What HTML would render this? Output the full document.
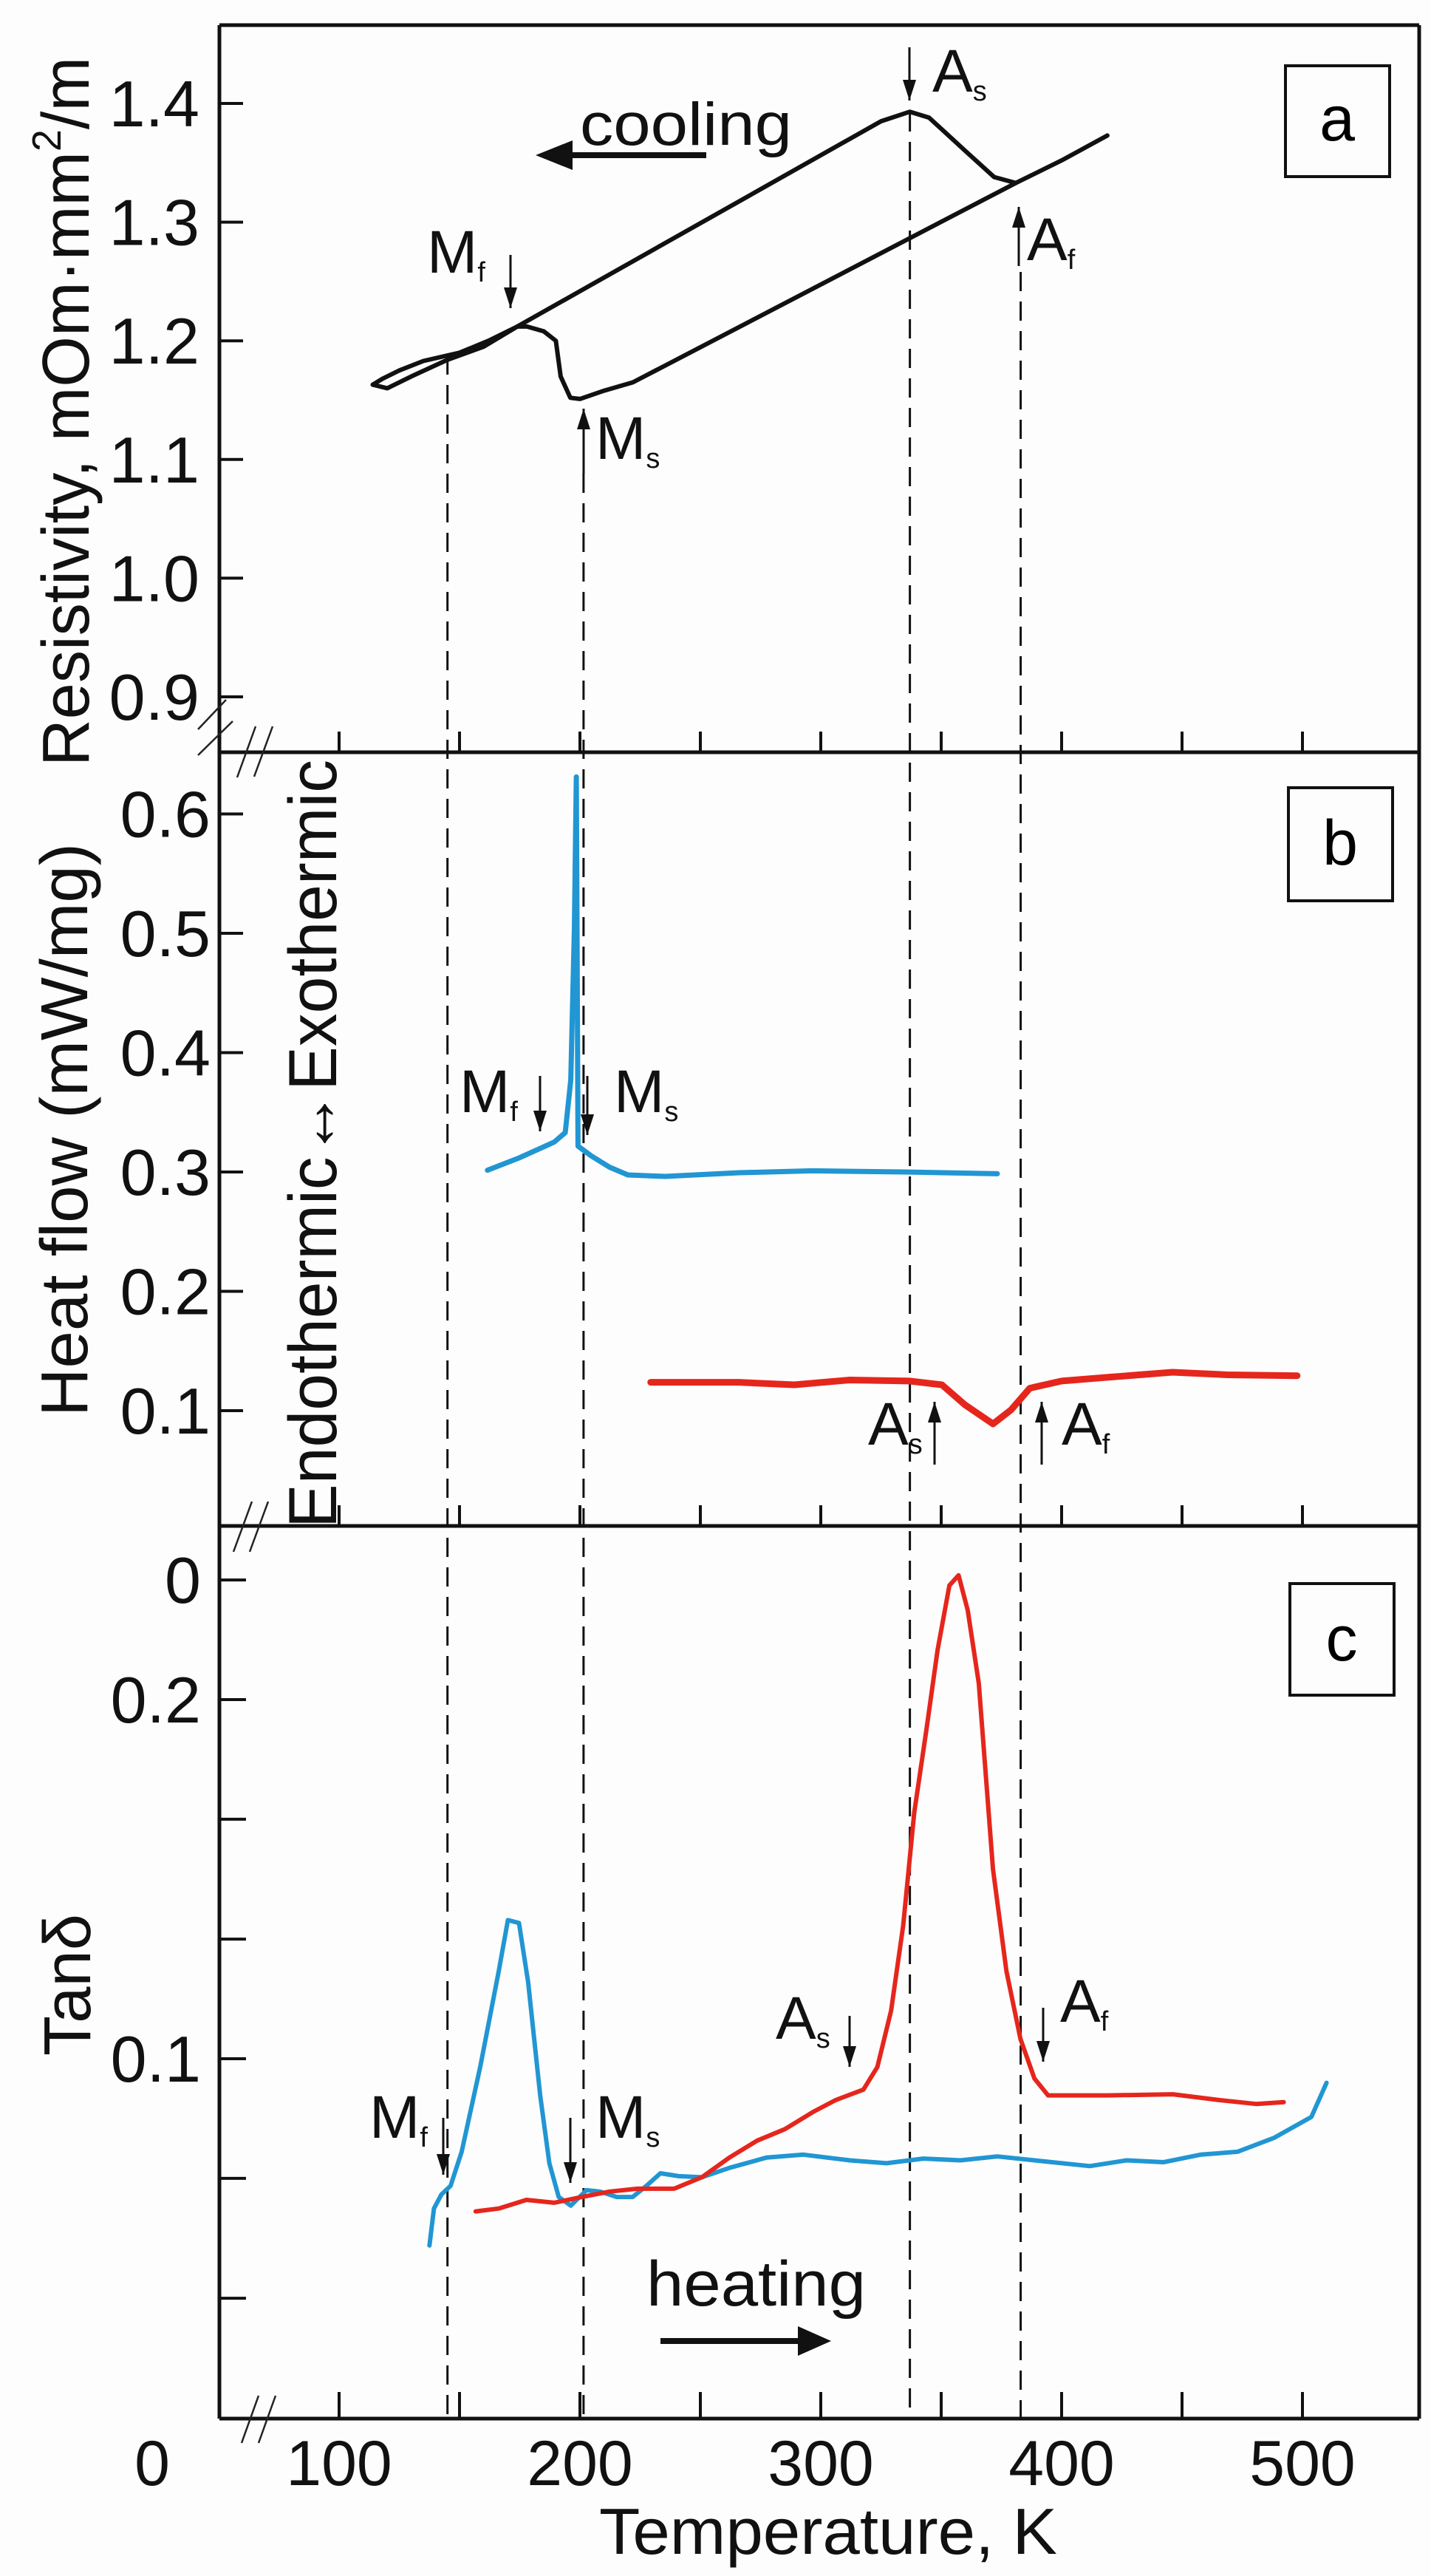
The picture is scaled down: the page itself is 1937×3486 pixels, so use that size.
<!DOCTYPE html>
<html><head><meta charset="utf-8"><title>Resistivity, DSC and Tanδ vs temperature</title>
<style>
html,body{margin:0;padding:0;background:#fdfdfd;}
svg{display:block;font-family:"Liberation Sans",Arial,sans-serif;}
</style></head>
<body>
<svg id="fig" width="1937" height="3486" viewBox="0 0 1937 3486" xmlns="http://www.w3.org/2000/svg">
<rect x="0" y="0" width="1937" height="3486" fill="#fdfdfd"/>
<g id="frame" stroke="#111" stroke-width="5" fill="none">
  <line x1="297" y1="34" x2="1921" y2="34"/>
  <line x1="297" y1="34" x2="297" y2="3273"/>
  <line x1="1921" y1="34" x2="1921" y2="3273"/>
  <line x1="297" y1="1018" x2="1921" y2="1018"/>
  <line x1="297" y1="2065" x2="1921" y2="2065"/>
  <line x1="297" y1="3273" x2="1921" y2="3273"/>
</g>
<g id="ticks"></g>
<g id="dashes"></g>
<g id="series"></g>
<g id="breaks" stroke="#222" stroke-width="2.5">
  <line x1="268" y1="987" x2="306" y2="947"/>
  <line x1="268" y1="1022" x2="315" y2="976"/>
  <line x1="321" y1="1052" x2="346" y2="983"/>
  <line x1="344" y1="1051" x2="369" y2="983"/>
  <line x1="316" y1="2100" x2="341" y2="2032"/>
  <line x1="338" y1="2100" x2="363" y2="2032"/>
  <line x1="327" y1="3306" x2="350" y2="3242"/>
  <line x1="350" y1="3306" x2="373" y2="3242"/>
</g>
<g>
  <rect x="1740" y="89" width="141" height="150" fill="none" stroke="#111" stroke-width="4"/>
  <text x="1810" y="190" font-size="86" text-anchor="middle">a</text>
  <rect x="1744" y="1066" width="141" height="153" fill="none" stroke="#111" stroke-width="4"/>
  <text x="1814" y="1170" font-size="86" text-anchor="middle">b</text>
  <rect x="1746" y="2143" width="141" height="151" fill="none" stroke="#111" stroke-width="4"/>
  <text x="1816" y="2247" font-size="86" text-anchor="middle">c</text>
</g>
<g fill="#111">
  <text transform="translate(120,557) rotate(-90)" font-size="90" text-anchor="middle" textLength="960" lengthAdjust="spacingAndGlyphs">Resistivity, mOm·mm<tspan font-size="55" dy="-38">2</tspan><tspan dy="38">/m</tspan></text>
  <text transform="translate(118,1529) rotate(-90)" font-size="90" text-anchor="middle" textLength="776" lengthAdjust="spacingAndGlyphs">Heat flow (mW/mg)</text>
  <text transform="translate(455,1548) rotate(-90)" font-size="92" text-anchor="middle" textLength="1040" lengthAdjust="spacingAndGlyphs">Endothermic↔Exothermic</text>
  <text transform="translate(122,2686) rotate(-90)" font-size="90" text-anchor="middle" textLength="192" lengthAdjust="spacingAndGlyphs">Tanδ</text>
  <text x="1121" y="3456" font-size="88" text-anchor="middle" textLength="620" lengthAdjust="spacingAndGlyphs">Temperature, K</text>
</g>
<g fill="#111" font-size="80">
  <text x="785" y="196" font-size="82" textLength="287" lengthAdjust="spacingAndGlyphs">cooling</text>
  <line x1="760" y1="210" x2="956" y2="210" stroke="#111" stroke-width="8"/>
  <polygon points="725,210 775,190 775,230" fill="#111"/>
  <text x="875" y="3120" font-size="86" textLength="297" lengthAdjust="spacingAndGlyphs">heating</text>
  <line x1="894" y1="3168" x2="1090" y2="3168" stroke="#111" stroke-width="8"/>
  <polygon points="1125,3168 1080,3148 1080,3188" fill="#111"/>
</g>
<g id="marks"></g>
<g id="labels"></g>

<script>
const xTicks = [100,150,200,250,300,350,400,450,500];
const xTickLabels = ["100","200","300","400","500"];
const xTickLabelVals = [100,200,300,400,500];
const resTicks = [0.9,1.0,1.1,1.2,1.3,1.4];
const resTickLabels = ["0.9","1.0","1.1","1.2","1.3","1.4"];
const hfTicks = [0.1,0.2,0.3,0.4,0.5,0.6];
const hfTickLabels = ["0.1","0.2","0.3","0.4","0.5","0.6"];
const tanTicks = [0.0333,0.0667,0.1,0.1333,0.1667,0.2,0.2333];
const tanLabelVals = [0.1,0.2,0.2333];
const tanTickLabels = ["0.1","0.2","0"];
const transitionT = [145,201.5,337,383];

const resUpperT = [114,118,125,135,150,162,174,325,337,345,360,372,381,400,419];
const resUpperV = [1.163,1.168,1.175,1.183,1.190,1.200,1.212,1.385,1.393,1.388,1.360,1.338,1.333,1.352,1.373];
const resLowerT = [381,222,210,200,196,192,190,185,178,174];
const resLowerV = [1.333,1.165,1.158,1.151,1.152,1.170,1.200,1.208,1.212,1.212];
const resTailT = [114,120,130,145,160,174];
const resTailV = [1.163,1.160,1.170,1.184,1.195,1.212];

const hfCoolT = [161.6,175,189.3,193.9,196.2,197.7,198.5,199.2,204.6,212.3,219.9,235.3,266,296.6,335,373.3];
const hfCoolV = [0.3015,0.312,0.325,0.333,0.377,0.504,0.631,0.3217,0.3136,0.304,0.2975,0.2963,0.2994,0.301,0.300,0.2985];
const hfHeatT = [229.4,266,289,312,336.8,350.3,359.8,371.5,379,386.8,400,419,446,469,497.8];
const hfHeatV = [0.1238,0.1238,0.1217,0.1257,0.1248,0.1217,0.105,0.0889,0.1006,0.1188,0.1248,0.1279,0.1322,0.130,0.1293];

const tanBlueT = [137.5,139.4,142.5,146.3,150.9,158.6,166.3,170.1,174.7,178.5,183.5,187.3,191.2,196.2,202.7,208.4,215.3,221.9,227.6,233.4,241,250.6,262.1,277.5,292.8,312,327.3,342.6,358,373.3,388.7,411.7,427,442.3,457.7,473,488.3,503.7,510];
const tanBlueV = [0.048,0.0583,0.0622,0.0646,0.0741,0.0977,0.1244,0.1386,0.1378,0.1213,0.0898,0.0709,0.0615,0.0591,0.0634,0.0630,0.0615,0.0615,0.0646,0.0681,0.0673,0.0670,0.0696,0.0725,0.0733,0.0717,0.0709,0.0722,0.0717,0.0728,0.0717,0.0701,0.0717,0.0712,0.0733,0.0741,0.0780,0.0838,0.0933];
const tanRedT = [156.7,166.3,177.8,189.3,200.8,212.3,223.8,239.1,250.6,262.1,273.6,285.1,296.6,306.2,317.7,323.5,329.2,334.2,338.8,343.9,348.5,353.4,357.2,361,365.6,371.5,377.1,382.9,388.7,394.4,419.3,446.2,465.3,480.7,492.2];
const tanRedV = [0.0575,0.0583,0.0607,0.0599,0.0615,0.0630,0.0638,0.0638,0.0670,0.0725,0.0772,0.0804,0.0851,0.0885,0.0914,0.0977,0.1134,0.1370,0.1685,0.1918,0.2138,0.2318,0.2346,0.2249,0.2045,0.1528,0.1244,0.1055,0.0945,0.0898,0.0898,0.0901,0.0885,0.0874,0.0879];

const xT = t => 785 + (t-200)*3.26;
const yA = v => 943 - (v-0.9)*1606;
const yB = v => 1586 + (0.3-v)*1615;
const yC = v => 2786 - (v-0.1)*4860;
const NS = "http://www.w3.org/2000/svg";
function mk(tag, attrs, parent){
  const e = document.createElementNS(NS, tag);
  for (const k in attrs) e.setAttribute(k, attrs[k]);
  parent.appendChild(e);
  return e;
}
const ticksG = document.getElementById('ticks');
const labelsG = document.getElementById('labels');
const seriesG = document.getElementById('series');
const dashG = document.getElementById('dashes');
const marksG = document.getElementById('marks');

[[1018,28],[2065,28],[3273,36]].forEach(([yb,len])=>{
  xTicks.forEach(t=>{
    const l = mk('line',{x1:xT(t),x2:xT(t),y1:yb,y2:yb-len,stroke:'#111','stroke-width':4},ticksG);
    
    
  });
});
function yTicks(vals, f, len){
  vals.forEach(v=>{
    const l = mk('line',{x1:297,x2:297+len,y1:f(v),y2:f(v),stroke:'#111','stroke-width':4},ticksG);
    
    
  });
}
yTicks(resTicks,yA,32); yTicks(hfTicks,yB,32); yTicks(tanTicks,yC,36);

function yLabels(vals, labs, f, right, name){
  vals.forEach((v,i)=>{
    const t = mk('text',{x:right,y:f(v)+31,'font-size':88,'text-anchor':'end',fill:'#111'},labelsG);
    t.textContent = labs[i];
    
    
  });
}
yLabels(resTicks,resTickLabels,yA,270,'resistivity-tick-label');
yLabels(hfTicks,hfTickLabels,yB,285,'heat-flow-tick-label');
yLabels(tanLabelVals,tanTickLabels,yC,272,'tan-delta-tick-label');
xTickLabelVals.forEach((v,i)=>{
  const t = mk('text',{x:xT(v),y:3363,'font-size':86,'text-anchor':'middle',fill:'#111'},labelsG);
  t.textContent = xTickLabels[i];
  
  
});
{
  const t = mk('text',{x:206,y:3363,'font-size':86,'text-anchor':'middle',fill:'#111'},labelsG);
  t.textContent = '0';
  
  
}

const dashTop = [481,641,152,368];
transitionT.forEach((t,i)=>{
  const l = mk('line',{x1:xT(t),x2:xT(t),y1:dashTop[i],y2:3273,stroke:'#111','stroke-width':3,'stroke-dasharray':'26 14'},dashG);
  
  
});

function line(T,V,fy,color,w,name){
  const pts = T.map((t,i)=>xT(t).toFixed(1)+','+fy(V[i]).toFixed(1)).join(' ');
  const p = mk('polyline',{points:pts,fill:'none',stroke:color,'stroke-width':w,'stroke-linejoin':'round','stroke-linecap':'round'},seriesG);
  
  
}
line(resUpperT,resUpperV,yA,'#111',6,'resistivity-upper-branch');
line(resLowerT,resLowerV,yA,'#111',6,'resistivity-lower-branch');
line(resTailT,resTailV,yA,'#111',6,'resistivity-tail');
line(hfCoolT,hfCoolV,yB,'#2196d3',7,'heat-flow-cooling');
line(hfHeatT,hfHeatV,yB,'#e5261c',9,'heat-flow-heating');
line(tanBlueT,tanBlueV,yC,'#2196d3',6,'tan-delta-cooling');
line(tanRedT,tanRedV,yC,'#e5261c',6,'tan-delta-heating');

const markerDefs = [
  [1231,64,136,1,'A','s',1262,124],
  [691,345,417,1,'M','f',578,369],
  [1379,280,360,-1,'A','f',1390,352],
  [790,553,641,-1,'M','s',806,621],
  [731,1456,1531,1,'M','f',622,1505],
  [795,1456,1536,1,'M','s',831,1505],
  [1265,1897,1982,-1,'A','s',1175,1955],
  [1410,1897,1982,-1,'A','f',1437,1955],
  [600,2866,2943,1,'M','f',500,2893],
  [772,2866,2954,1,'M','s',806,2893],
  [1150,2728,2797,1,'A','s',1050,2759],
  [1412,2717,2790,1,'A','f',1435,2736]
];
markerDefs.forEach(d=>{
  const [x,y1,y2,dir,L,S,lx,by] = d;
  const l = mk('line',{x1:x,x2:x,y1:y1,y2:y2,stroke:'#111','stroke-width':3},marksG);
  
  
  const tip = dir>0 ? y2 : y1;
  const base = dir>0 ? tip-28 : tip+28;
  const h = mk('polygon',{points:`${x},${tip} ${x-9},${base} ${x+9},${base}`,fill:'#111'},marksG);
  
  
  const t = mk('text',{x:lx,y:by,'font-size':82,fill:'#111'},marksG);
  
  
  t.textContent = L;
  const s = mk('tspan',{'font-size':38,dy:12},t);
  s.textContent = S;
});
</script>
</svg>
</body></html>
